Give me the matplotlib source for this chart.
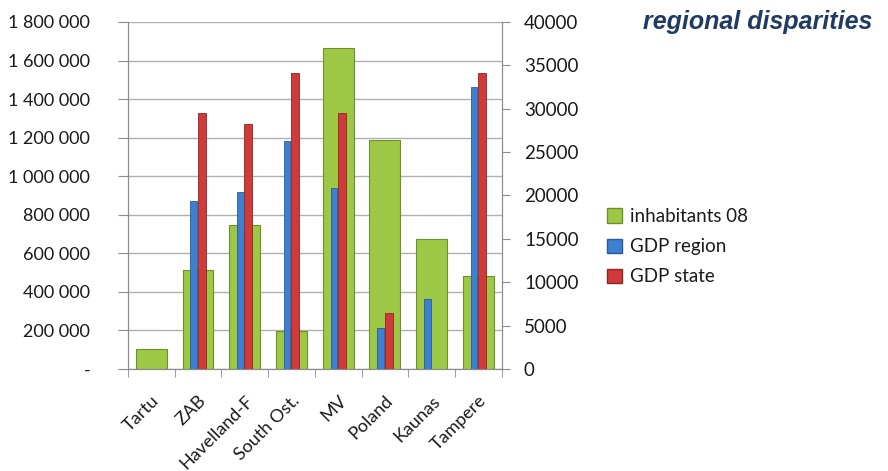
import numpy as np
from matplotlib import pyplot as plt
from matplotlib.patches import Patch

# ---------------- data --------------------------------
regions = ['Tartu', 'ZAB', 'Havelland-F', 'South Ost.', 'MV', 'Poland', 'Kaunas', 'Tampere']
inhabitants = [104000, 513000, 747000, 197000, 1667000, 1190000, 672000, 482000]
gdp_region = [np.nan, 19350, 20400, 26300, 20850, 4700, 8100, 32500]
gdp_state = [np.nan, 29500, 28250, 34100, 29500, 6450, np.nan, 34100]

left_ticks = [0, 200000, 400000, 600000, 800000, 1000000, 1200000, 1400000, 1600000, 1800000]
right_ticks = [0, 5000, 10000, 15000, 20000, 25000, 30000, 35000, 40000]

plt.rcParams['font.family'] = ['Lato', 'DejaVu Sans']

GREEN, GREEN_E = '#9dc845', '#6f8f2a'
BLUE, BLUE_E = '#3d7fd0', '#285a9a'
RED, RED_E = '#cf3a3a', '#8f2424'
GRID = '#b0b0b0'


def fmt_left(v):
    if v == 0:
        return '-'
    return f'{int(v):,}'.replace(',', ' ')


fig = plt.figure(figsize=(8.88, 4.71), dpi=100)
ax = fig.add_axes([0.144, 0.2166, 0.421, 0.7367])
ax2 = ax.twinx()

x = np.arange(len(regions))

# Left axis: inhabitants
ax.bar(x, inhabitants, width=0.66, color=GREEN, edgecolor=GREEN_E, linewidth=0.8, zorder=2)
ax.set_ylim(0, 1800000)
ax.set_xlim(-0.5, len(regions) - 0.5)
ax.set_yticks(left_ticks)
ax.set_yticklabels([fmt_left(v) for v in left_ticks])
ax.yaxis.grid(True, color=GRID, linewidth=1.0, zorder=0)
ax.set_axisbelow(True)

# Right axis: GDP
ax2.bar(x - 0.09, gdp_region, width=0.14, color=BLUE, edgecolor=BLUE_E, linewidth=0.6, zorder=3)
ax2.bar(x + 0.08, gdp_state, width=0.17, color=RED, edgecolor=RED_E, linewidth=0.6, zorder=3)
ax2.set_ylim(0, 40000)
ax2.set_yticks(right_ticks)
ax2.set_yticklabels([str(v) for v in right_ticks])

for a in (ax, ax2):
    for s in a.spines.values():
        s.set_color('#8c8c8c')
    a.spines['top'].set_visible(False)

ax.tick_params(axis='y', length=7, color='#8c8c8c', pad=20, labelsize=13, labelcolor='#1a1a1a')
ax2.tick_params(axis='y', length=6, color='#8c8c8c', pad=10, labelsize=13.5, labelcolor='#1a1a1a')

# category labels and separator ticks
ax.set_xticks(x)
ax.set_xticklabels(regions, rotation=45, ha='right', rotation_mode='anchor')
ax.tick_params(axis='x', which='major', length=0, pad=17, labelsize=13, labelcolor='#1a1a1a')
ax.set_xticks(np.arange(len(regions) + 1) - 0.5, minor=True)
ax.tick_params(axis='x', which='minor', length=6, color='#8c8c8c')

# legend
handles = [Patch(facecolor=GREEN, edgecolor=GREEN_E),
           Patch(facecolor=BLUE, edgecolor=BLUE_E),
           Patch(facecolor=RED, edgecolor=RED_E)]
fig.legend(handles, ['inhabitants 08', 'GDP region', 'GDP state'],
           loc='center left', bbox_to_anchor=(0.665, 0.476), frameon=False,
           fontsize=13.5, handlelength=0.8, handleheight=0.8, handletextpad=0.4,
           labelspacing=0.7, labelcolor='#1a1a1a')

# title
fig.text(0.982, 0.953, 'regional disparities', ha='right', va='center',
         fontsize=18, fontweight='bold', fontstyle='italic',
         color='#1f3a63', family='Liberation Sans')

fig.savefig('out.png', dpi=100)
